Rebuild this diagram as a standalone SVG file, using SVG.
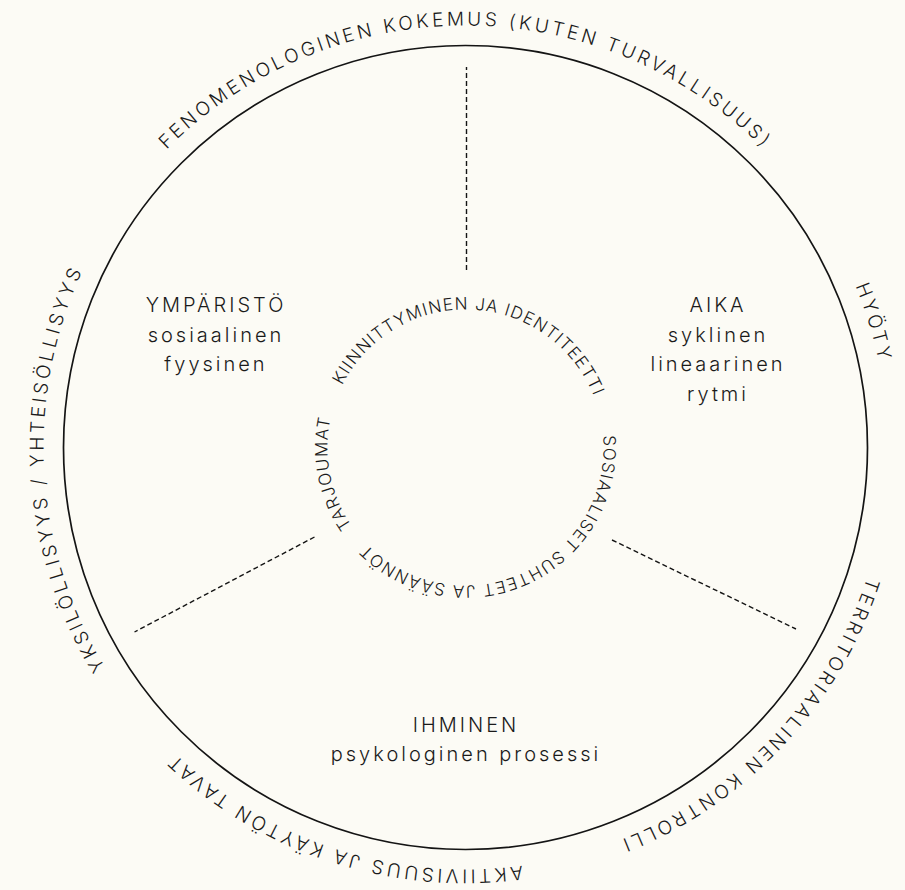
<svg xmlns="http://www.w3.org/2000/svg" xmlns:xlink="http://www.w3.org/1999/xlink" width="905" height="890" viewBox="0 0 905 890">
  <style>
    .bg { fill: #fcfbf5; }
    .ring { fill: none; stroke: #141414; stroke-width: 1.7; }
    .divider { fill: none; stroke: #141414; stroke-width: 1.4; stroke-dasharray: 5 3; }
    .label { font-family: Inter, "Liberation Sans", sans-serif; fill: #1a1a1a; }
    .center { font-size: 20px; font-weight: 350; letter-spacing: 3px; text-anchor: middle; }
    .outer { font-size: 19px; font-weight: 350; letter-spacing: 3.3px; text-anchor: middle; }
    .inner { font-size: 17px; font-weight: 350; letter-spacing: 1.2px; text-anchor: middle; }
  </style>
  <defs>
    <!-- clockwise circles starting at the bottom; 50% lands on the top -->
    <path id="outerPath" d="M 465.5 869.5 A 422 422 0 1 1 465.5 25.5 A 422 422 0 1 1 465.5 869.5"/>
    <path id="innerPath" d="M 465.5 585.5 A 138 138 0 1 1 465.5 309.5 A 138 138 0 1 1 465.5 585.5"/>
  </defs>

  <rect class="bg" x="0" y="0" width="905" height="890"/>

  <g id="main-circle">
    <circle class="ring" cx="465.5" cy="447.5" r="402"/>
  </g>

  <g id="connectors">
    <line class="divider" x1="466.5" y1="270" x2="466.5" y2="67"/>
    <line class="divider" x1="612" y1="540" x2="796" y2="629"/>
    <line class="divider" x1="314.5" y1="537" x2="134.5" y2="632"/>
  </g>

  <!-- outer ring labels -->
  <g id="label-fenomenologinen">
    <text class="label outer"><textPath href="#outerPath" startOffset="50%">FENOMENOLOGINEN KOKEMUS (KUTEN TURVALLISUUS)</textPath></text>
  </g>
  <g id="label-hyoty" transform="rotate(73 465.5 447.5)">
    <text class="label outer"><textPath href="#outerPath" startOffset="50%">HYÖTY</textPath></text>
  </g>
  <g id="label-territoriaalinen" transform="rotate(133.3 465.5 447.5)">
    <text class="label outer"><textPath href="#outerPath" startOffset="50%">TERRITORIAALINEN KONTROLLI</textPath></text>
  </g>
  <g id="label-aktiivisuus" transform="rotate(198 465.5 447.5)">
    <text class="label outer"><textPath href="#outerPath" startOffset="50%">AKTIIVISUUS JA KÄYTÖN TAVAT</textPath></text>
  </g>
  <g id="label-yksilollisyys" transform="rotate(266.8 465.5 447.5)">
    <text class="label outer"><textPath href="#outerPath" startOffset="50%">YKSILÖLLISYYS / YHTEISÖLLISYYS</textPath></text>
  </g>

  <!-- inner ring labels -->
  <g id="label-kiinnittyminen" transform="rotate(2.6 465.5 447.5)">
    <text class="label inner"><textPath href="#innerPath" startOffset="50%">KIINNITTYMINEN JA IDENTITEETTI</textPath></text>
  </g>
  <g id="label-sosiaaliset" transform="rotate(155.5 465.5 447.5)">
    <text class="label inner"><textPath href="#innerPath" startOffset="50%">SOSIAALISET SUHTEET JA SÄÄNNÖT</textPath></text>
  </g>
  <g id="label-tarjoumat" transform="rotate(259 465.5 447.5)">
    <text class="label inner"><textPath href="#innerPath" startOffset="50%">TARJOUMAT</textPath></text>
  </g>

  <!-- sector contents -->
  <g id="node-ymparisto">
    <text class="label center" x="216" y="312">YMPÄRISTÖ</text>
    <text class="label center" x="216" y="341.5">sosiaalinen</text>
    <text class="label center" x="216" y="371">fyysinen</text>
  </g>
  <g id="node-aika">
    <text class="label center" x="718" y="312">AIKA</text>
    <text class="label center" x="718" y="341.5">syklinen</text>
    <text class="label center" x="718" y="371">lineaarinen</text>
    <text class="label center" x="718" y="400.5">rytmi</text>
  </g>
  <g id="node-ihminen">
    <text class="label center" x="466" y="732">IHMINEN</text>
    <text class="label center" x="466" y="761">psykologinen prosessi</text>
  </g>
</svg>
